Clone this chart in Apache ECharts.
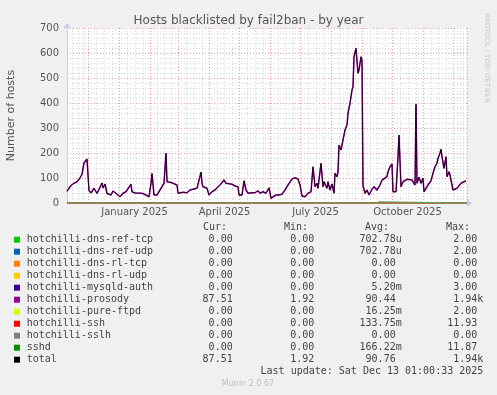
<!DOCTYPE html>
<html><head><meta charset="utf-8">
<script src="https://cdn.jsdelivr.net/npm/echarts@6/dist/echarts.min.js"></script>
<style>html,body{margin:0;padding:0;background:#f0f0f0}#c{width:497px;height:395px}</style>
</head><body><div id="c"></div><script>
// ---- data ----
const startIso = '2024-11-09T12:00:00Z';
const spanDays = 400;
// day offsets since start
const days = [0,4,7,10,13,15,16,17,18,20,21,22,24,27,30,32,35,36,38,40,44,46,49,51,53,56,59,61,64,65,68,70,75,79,82,84,85,87,90,94,97,99,100,104,106,110,111,113,116,120,123,126,130,132,134,135,136,140,142,145,146,148,150,153,155,157,159,161,165,168,171,172,175,177,179,181,185,188,191,193,196,199,202,204,206,209,212,215,218,221,225,228,231,233,235,238,241,244,246,248,250,251,254,256,257,260,261,263,265,267,268,270,271,272,274,275,276,278,280,281,283,285,286,287,289,291,292,294,295,296,298,300,302,305,307,309,310,311,312,313,315,317,320,321,323,325,326,329,331,332,334,336,340,342,345,347,348,349,350,352,354,356,357,359,361,364,366,368,370,371,373,374,375,377,379,380,382,383,384,386,388,390,392,394,396,399];
const prosody = [47,70,79,85,100,115,108,160,168,176,178,50,40,59,38,45,80,60,76,38,32,48,38,45,25,39,45,38,75,45,40,35,39,32,25,79,118,32,32,59,79,199,85,82,79,72,39,45,43,41,52,55,59,65,123,79,65,59,32,45,39,52,61,72,79,92,79,81,75,68,65,32,32,89,52,39,41,41,49,39,45,39,61,19,25,32,32,35,52,72,96,101,96,72,28,25,39,45,145,65,79,59,159,65,85,59,85,52,76,39,119,105,125,232,212,232,252,292,312,359,399,452,465,585,619,519,532,585,570,70,39,52,32,55,65,59,50,44,55,72,92,85,105,125,145,156,45,45,185,272,65,85,95,103,92,92,72,395,79,103,79,99,45,52,72,89,119,145,159,179,199,215,185,139,185,105,125,112,119,52,55,59,65,79,85,89];
const sshdDays = [0,309,310,311,312,313,400];
const sshdVals = [0,0,6,8,5,0,0];
const seriesNames = ['hotchilli-dns-ref-tcp','hotchilli-dns-ref-udp','hotchilli-dns-rl-tcp','hotchilli-dns-rl-udp','hotchilli-mysqld-auth','hotchilli-prosody','hotchilli-pure-ftpd','hotchilli-ssh','hotchilli-sslh','sshd','total'];
const curVals = ['0.00','0.00','0.00','0.00','0.00','87.51','0.00','0.00','0.00','0.00','87.51'];
const minVals = ['0.00','0.00','0.00','0.00','0.00','1.92','0.00','0.00','0.00','0.00','1.92'];
const avgVals = ['702.78u','702.78u','0.00','0.00','5.20m','90.44','16.25m','133.75m','0.00','166.22m','90.76'];
const maxVals = ['2.00','2.00','0.00','0.00','3.00','1.94k','2.00','11.93','0.00','11.87','1.94k'];
const xLabelDates = ['2025-01-01','2025-04-01','2025-07-01','2025-10-01'];
const xLabelTexts = ['January 2025','April 2025','July 2025','October 2025'];
const yTicks = [0,100,200,300,400,500,600,700];
const titleText = 'Hosts blacklisted by fail2ban - by year';
const yName = 'Number of hosts';
const lastUpdate = 'Last update: Sat Dec 13 01:00:33 2025';
const footer = 'Munin 2.0.67';

// ---- styles ----
const colors = ['#00cc00','#0066b3','#ff8000','#ffcc00','#330099','#990099','#ccff00','#ff0000','#808080','#008f00','#000000'];
const DAY = 86400000;
const t0 = Date.parse(startIso);
const tEnd = t0 + spanDays*DAY;
const toT = d => t0 + d*DAY;

const sshdMap = {};
sshdDays.forEach((d,i)=>{sshdMap[d]=sshdVals[i];});
const prosodyData = days.map((d,i)=>[toT(d), prosody[i]]);
const totalData = days.map((d,i)=>[toT(d), prosody[i] + (sshdMap[d]||0)]);
const sshdData = sshdDays.map((d,i)=>[toT(d), sshdVals[i]]);
const zeroData = [[t0,0],[tEnd,0]];

const series = seriesNames.map((name,i)=>{
  let data = zeroData;
  let ls = {color:colors[i], width:1};
  if (name==='hotchilli-prosody') { data = prosodyData; ls.width = 1.5; }
  else if (name==='sshd') { data = sshdData; ls.width = 1; ls.color = '#5fa05f'; }
  else if (name==='total') { data = totalData; ls.opacity = 0.72; }
  return {
    name, type:'line', data, showSymbol:false, symbol:'none', animation:false,
    lineStyle:ls, itemStyle:{color:colors[i]}, z: 2+i, silent:true
  };
});

const labelMap = {};
xLabelDates.forEach((d,i)=>{labelMap[Date.parse(d+'T00:00:00Z')] = xLabelTexts[i];});

const mono = 'DejaVu Sans Mono';
const txtCol = '#444';
const graphics = [];
const rowY0 = 239.7, rowH = 12;
const colRight = {cur:232.7, min:314.3, avg:401.7, max:483.3};
const hdr = [['Cur:',227],['Min:',308],['Avg:',389],['Max:',470]];
hdr.forEach(h=>graphics.push({type:'text', x:h[1], y:227.7, style:{text:h[0], font:'10px '+mono, fill:txtCol, align:'right', verticalAlign:'middle'}}));
const unitPad = s => /[0-9]$/.test(s) ? s+' ' : s;
seriesNames.forEach((n,i)=>{
  const y = rowY0 + i*rowH;
  graphics.push({type:'rect', shape:{x:14, y:y-3, width:6, height:6}, style:{fill:colors[i]}});
  graphics.push({type:'text', x:26.7, y, style:{text:n, font:'10px '+mono, fill:txtCol, verticalAlign:'middle'}});
  graphics.push({type:'text', x:colRight.cur, y, style:{text:curVals[i], font:'10px '+mono, fill:txtCol, align:'right', verticalAlign:'middle'}});
  graphics.push({type:'text', x:colRight.min, y, style:{text:minVals[i], font:'10px '+mono, fill:txtCol, align:'right', verticalAlign:'middle'}});
  graphics.push({type:'text', x:colRight.avg, y, style:{text:unitPad(avgVals[i]), font:'10px '+mono, fill:txtCol, align:'right', verticalAlign:'middle'}});
  graphics.push({type:'text', x:colRight.max, y, style:{text:unitPad(maxVals[i]), font:'10px '+mono, fill:txtCol, align:'right', verticalAlign:'middle'}});
});
graphics.push({type:'text', x:483.3, y:371.7, style:{text:lastUpdate, font:'10px '+mono, fill:txtCol, align:'right', verticalAlign:'middle'}});
graphics.push({type:'text', x:248, y:383.5, style:{text:footer, font:'8px DejaVu Sans', fill:'#c0c0c0', align:'center', verticalAlign:'middle'}});
graphics.push({type:'text', x:487, y:58, rotation:-Math.PI/2, style:{text:'RRDTOOL / TOBI OETIKER', font:'7px DejaVu Sans', fill:'#c8c8c8', align:'center', verticalAlign:'middle'}});
graphics.push({type:'text', x:11, y:115.5, rotation:Math.PI/2, style:{text:yName, font:'11px DejaVu Sans', fill:'#555', align:'center', verticalAlign:'middle'}});

const chart = echarts.init(document.getElementById('c'), null, {renderer:'canvas'});
chart.setOption({
  backgroundColor:'#f0f0f0',
  useUTC:true,
  animation:false,
  title:{text:titleText, left:'center', top:10, textStyle:{fontFamily:'DejaVu Sans', fontSize:12, fontWeight:'normal', color:'#555'}},
  grid:{left:67, top:28, width:400, height:175, show:true, backgroundColor:'#ffffff', borderWidth:0},
  xAxis:{type:'time', min:t0, max:tEnd, splitNumber:13,
    axisLine:{show:true, lineStyle:{color:'#c4c8f4', width:1}, symbol:['none','arrow'], symbolSize:[6,6], symbolOffset:[0,5]},
    axisTick:{show:false},
    axisLabel:{fontFamily:'DejaVu Sans', fontSize:10, color:'#555', margin:4, padding:[0,0,0,30], showMinLabel:true, showMaxLabel:true,
      formatter:(v)=>labelMap[v]||''},
    splitLine:{show:true, lineStyle:{color:'#eba0a0', type:[1,2], width:1}},
    minorTick:{show:false, splitNumber:4},
    minorSplitLine:{show:true, lineStyle:{color:'#d8d8d8', type:[1,2], width:1}}
  },
  yAxis:{type:'value', min:0, max:700, interval:100,
    axisLine:{show:true, lineStyle:{color:'#c4c8f4', width:1}, symbol:['none','arrow'], symbolSize:[6,6], symbolOffset:[0,5]},
    axisTick:{show:false},
    axisLabel:{fontFamily:'DejaVu Sans', fontSize:10, color:'#555', margin:8, customValues: yTicks},
    splitLine:{show:true, lineStyle:{color:'#eba0a0', type:[1,2], width:1}},
    minorTick:{show:false, splitNumber:5},
    minorSplitLine:{show:true, lineStyle:{color:'#d8d8d8', type:[1,2], width:1}}
  },
  graphic: graphics,
  series
});
</script></body></html>
